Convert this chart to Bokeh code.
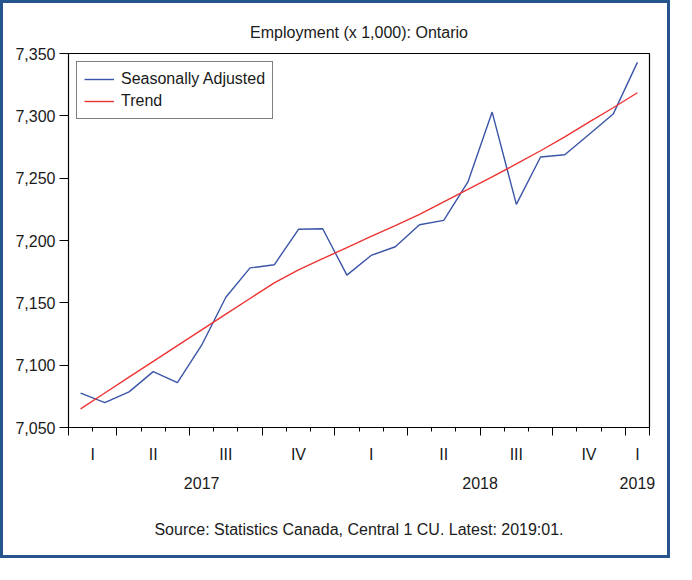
from bokeh.plotting import figure
from bokeh.models import (ColumnDataSource, FixedTicker, LinearAxis, NumeralTickFormatter,
                          Range1d, Legend, LegendItem)
from bokeh.embed import file_html
from bokeh.resources import INLINE

# ---------------- data ----------------
months = ["2017-02", "2017-03", "2017-04", "2017-05", "2017-06", "2017-07",
          "2017-08", "2017-09", "2017-10", "2017-11", "2017-12", "2018-01",
          "2018-02", "2018-03", "2018-04", "2018-05", "2018-06", "2018-07",
          "2018-08", "2018-09", "2018-10", "2018-11", "2018-12", "2019-01"]
seasonally_adjusted = [7077.5, 7070.0, 7078.6, 7094.8, 7086.0, 7116.0,
                       7154.5, 7178.0, 7180.5, 7209.0, 7209.4, 7172.2,
                       7188.0, 7195.0, 7212.6, 7216.1, 7247.0, 7303.0,
                       7229.0, 7267.0, 7268.8, 7285.0, 7301.4, 7342.9]
trend = [7065.0, 7077.7, 7090.4, 7103.0, 7115.7, 7128.3,
         7141.0, 7153.5, 7166.0, 7176.5, 7185.5, 7194.2,
         7203.3, 7212.0, 7221.0, 7231.0, 7241.0, 7251.0,
         7261.4, 7272.0, 7283.2, 7295.0, 7306.5, 7318.5]
quarter_labels = ["I", "II", "III", "IV", "I", "II", "III", "IV", "I"]
year_labels = ["2017", "2018", "2019"]
y_ticks = [7050, 7100, 7150, 7200, 7250, 7300, 7350]

TITLE = "Employment (x 1,000): Ontario"
SOURCE = "Source: Statistics Canada, Central 1 CU. Latest: 2019:01."
FONT = "Liberation Sans"
TXT = "#1a1a1a"


def month_pos(s):
    yy, mm = map(int, s.split("-"))
    return (yy - 2017) * 12 + (mm - 1)


x_start = month_pos(months[0])
x_end = month_pos(months[-1]) + 1
x_mid = [month_pos(s) + 0.5 for s in months]

src = ColumnDataSource(dict(x=x_mid, sa=seasonally_adjusted, trend=trend))

p = figure(width=670, height=558, output_backend="svg", toolbar_location=None,
           x_range=Range1d(x_start, x_end), y_range=Range1d(y_ticks[0], y_ticks[-1]),
           min_border_left=65, min_border_right=24, min_border_top=50, min_border_bottom=134,
           background_fill_color="white", border_fill_color="white")
p.styles = {"border": "3px solid #26548C"}

p.title.text = TITLE
p.title.align = "center"
p.title.text_font = FONT
p.title.text_font_size = "16px"
p.title.text_font_style = "normal"
p.title.text_color = TXT
p.title.standoff = 26

p.outline_line_color = "black"
p.outline_line_width = 1.2
p.xgrid.visible = False
p.ygrid.visible = False

r_sa = p.line("x", "sa", source=src, line_color="#3A55A8", line_width=1.4)
r_tr = p.line("x", "trend", source=src, line_color="#EE3333", line_width=1.4)

# y axis
ya = p.yaxis[0]
ya.ticker = FixedTicker(ticks=y_ticks, minor_ticks=[])
ya.formatter = NumeralTickFormatter(format="0,0")
ya.major_tick_in = 0
ya.major_tick_out = 9
ya.minor_tick_out = 0
ya.major_label_standoff = 4
ya.major_label_text_font = FONT
ya.major_label_text_font_size = "16px"
ya.major_label_text_color = TXT
ya.axis_line_color = "black"
ya.major_tick_line_color = "black"

# main x axis: month ticks, quarter boundaries long
xa = p.xaxis[0]
q_bounds = [x_start] + [m for m in range(x_start, x_end + 1) if m % 3 == 0] + [x_end]
q_bounds = sorted(set(q_bounds))
xa.ticker = FixedTicker(ticks=q_bounds, minor_ticks=list(range(x_start, x_end + 1)))
xa.major_label_overrides = {t: "" for t in q_bounds}
xa.major_label_text_font_size = "0px"
xa.major_label_standoff = 0
xa.major_tick_in = 0
xa.major_tick_out = 8
xa.minor_tick_in = 0
xa.minor_tick_out = 4
xa.axis_line_color = "black"
xa.major_tick_line_color = "black"
xa.minor_tick_line_color = "black"

# quarter labels centred in each (visible) quarter
q_centers = []
q = x_start // 3
while q * 3 < x_end:
    a, b = max(q * 3, x_start), min(q * 3 + 3, x_end)
    q_centers.append((a + b) / 2)
    q += 1
qa = LinearAxis(ticker=FixedTicker(ticks=q_centers, minor_ticks=[]),
                major_label_overrides={c: l for c, l in zip(q_centers, quarter_labels)})
# year labels centred in each visible year
y_centers = []
for i, _ in enumerate(year_labels):
    a, b = max(i * 12, x_start), min(i * 12 + 12, x_end)
    y_centers.append((a + b) / 2)
yra = LinearAxis(ticker=FixedTicker(ticks=y_centers, minor_ticks=[]),
                 major_label_overrides={c: l for c, l in zip(y_centers, year_labels)},
                 axis_label=SOURCE)
for ax, so in ((qa, 10), (yra, 11)):
    ax.axis_line_color = None
    ax.major_tick_line_color = None
    ax.minor_tick_line_color = None
    ax.major_tick_out = 0
    ax.minor_tick_out = 0
    ax.major_label_standoff = so
    ax.major_label_text_font = FONT
    ax.major_label_text_font_size = "16px"
    ax.major_label_text_color = TXT
yra.axis_label_text_font = FONT
yra.axis_label_text_font_size = "16px"
yra.axis_label_text_font_style = "normal"
yra.axis_label_text_color = TXT
yra.axis_label_standoff = 29
p.add_layout(qa, "below")
p.add_layout(yra, "below")

legend = Legend(items=[LegendItem(label="Seasonally Adjusted", renderers=[r_sa]),
                       LegendItem(label="Trend", renderers=[r_tr])],
                location="top_left", margin=8, padding=7, spacing=2,
                glyph_width=30, glyph_height=20, label_height=20, label_standoff=7,
                label_text_font=FONT, label_text_font_size="16px", label_text_color=TXT,
                border_line_color="black", border_line_width=1,
                background_fill_color="white", background_fill_alpha=1)
p.add_layout(legend)

open("out.html", "w").write(file_html(p, INLINE))
